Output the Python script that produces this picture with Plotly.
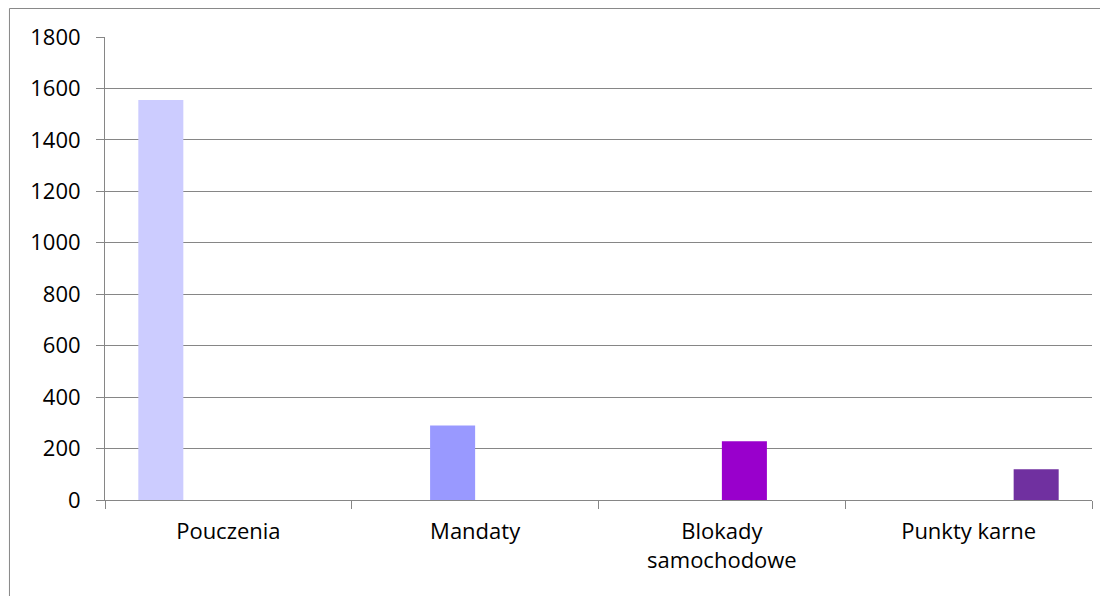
import plotly.graph_objects as go

categories = ["Pouczenia", "Mandaty", "Blokady<br>samochodowe", "Punkty karne"]
series_names = ["Pouczenia", "Mandaty", "Blokady samochodowe", "Punkty karne"]
values = [1555, 290, 228, 120]
colors = ["#CCCCFF", "#9999FF", "#9900CC", "#7030A0"]

GRAY = "#868686"
FONT = "Open Sans"

fig = go.Figure()

# each series only has a value in its own category (Excel-style grouped layout)
for i, name in enumerate(series_names):
    ys = [None] * len(categories)
    ys[i] = values[i]
    fig.add_trace(go.Bar(
        x=categories, y=ys, name=name,
        marker=dict(color=colors[i], line=dict(width=0)),
        showlegend=False
    ))

# chart area border (cut off at right and bottom like the source)
fig.add_shape(type="rect", xref="paper", yref="paper",
              x0=-0.0968, x1=1.05, y0=-0.3, y1=1.0616,
              line=dict(color=GRAY, width=1), layer="below")

fig.update_layout(
    width=1108, height=596,
    margin=dict(l=97, r=24, t=29, b=104),
    paper_bgcolor="white", plot_bgcolor="white",
    barmode="group", bargap=0.27, bargroupgap=0,
    font=dict(family=FONT, size=22, color="#000000"),
    xaxis=dict(
        type="category", showgrid=False,
        showline=True, linecolor=GRAY, linewidth=1,
        ticks="outside", tickson="boundaries", ticklen=8, tickcolor=GRAY,
        ticklabelstandoff=12,
        tickfont=dict(size=22)
    ),
    yaxis=dict(
        range=[0, 1800], dtick=200,
        showgrid=True, gridcolor=GRAY, gridwidth=1,
        zeroline=False,
        showline=True, linecolor=GRAY, linewidth=1,
        ticks="outside", ticklen=8, tickcolor=GRAY,
        ticklabelstandoff=11,
        tickfont=dict(size=22)
    )
)

fig.write_html("out.html")
